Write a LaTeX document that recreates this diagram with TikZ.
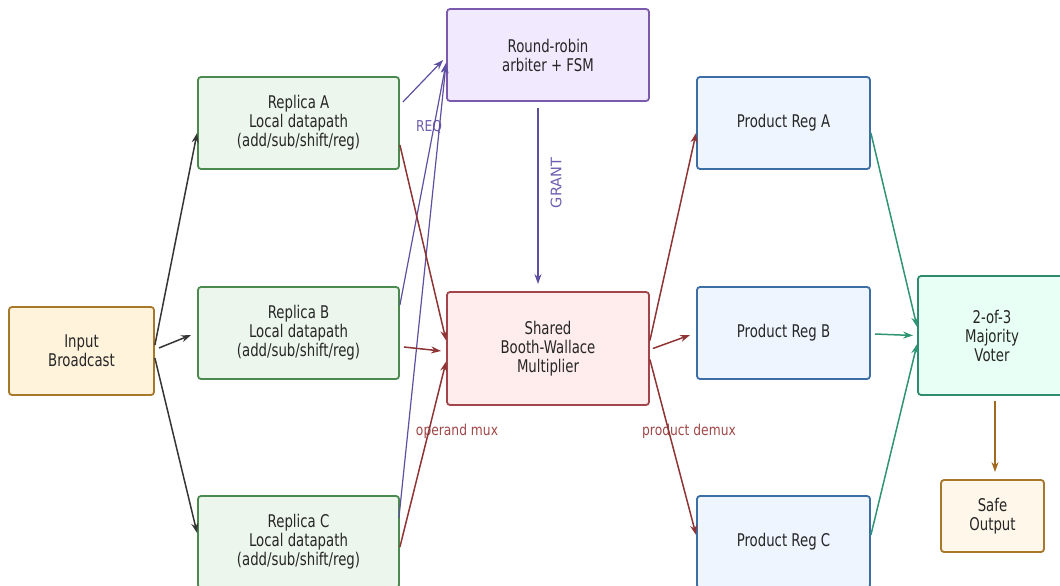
\documentclass[tikz,border=0pt]{standalone}
\usepackage{fontspec}
\setmainfont{DejaVu Sans}[FakeStretch=0.76]
\newfontfamily\lblfont{DejaVu Sans}[FakeStretch=0.82]
\newfontfamily\grantfont{DejaVu Sans}
\usetikzlibrary{calc,arrows.meta}
\definecolor{inB}{HTML}{A8782A}\definecolor{inF}{HTML}{FFF3DC}
\definecolor{repB}{HTML}{4A8A4E}\definecolor{repF}{HTML}{EDF6EC}
\definecolor{arbB}{HTML}{7B5AAE}\definecolor{arbF}{HTML}{F1EAFF}
\definecolor{mulB}{HTML}{A2454A}\definecolor{mulF}{HTML}{FFECEC}
\definecolor{prB}{HTML}{3B6EA5}\definecolor{prF}{HTML}{EEF5FF}
\definecolor{votB}{HTML}{2E8B6E}\definecolor{votF}{HTML}{E8FFF6}
\definecolor{safB}{HTML}{A8782A}\definecolor{safF}{HTML}{FFF7EA}
\definecolor{eBlk}{HTML}{353535}
\definecolor{ePur}{HTML}{5E4FA0}
\definecolor{eRed}{HTML}{8E3434}
\definecolor{eTeal}{HTML}{2E9474}
\definecolor{eBrn}{HTML}{A06A20}
\definecolor{lPur}{HTML}{6E5EAE}
\definecolor{lRed}{HTML}{A04848}
\begin{document}
\begin{tikzpicture}[x=1pt,y=-1pt,
  box/.style={draw, line width=1.8pt, rounded corners=3pt, align=center, inner sep=0pt,
    font=\fontsize{17.5}{19}\selectfont, text=black!85},
  conn/.style={line width=1.5pt, -{Stealth[length=10pt,width=7pt]}},
  lbl/.style={font=\lblfont\fontsize{15}{16}\selectfont}]
\useasboundingbox (0,0) rectangle (1060,586);
\node[box, draw=inB, fill=inF, minimum width=145pt, minimum height=88pt] (in) at (81.5,351) {Input\\Broadcast};
\node[box, draw=repB, fill=repF, minimum width=201pt, minimum height=92pt] (ra) at (298.5,123) {Replica A\\Local datapath\\(add/sub/shift/reg)};
\node[box, draw=repB, fill=repF, minimum width=201pt, minimum height=92pt] (rb) at (298.5,333) {Replica B\\Local datapath\\(add/sub/shift/reg)};
\node[box, draw=repB, fill=repF, minimum width=201pt, minimum height=92pt] (rc) at (298.5,542) {Replica C\\Local datapath\\(add/sub/shift/reg)};
\node[box, draw=arbB, fill=arbF, minimum width=202pt, minimum height=92pt] (arb) at (548,55) {Round-robin\\arbiter + FSM};
\node[box, draw=mulB, fill=mulF, minimum width=202pt, minimum height=113pt] (mul) at (548,348.5) {Shared\\Booth-Wallace\\Multiplier};
\node[box, draw=prB, fill=prF, minimum width=173pt, minimum height=92pt] (pra) at (783.5,123) {Product Reg A};
\node[box, draw=prB, fill=prF, minimum width=173pt, minimum height=92pt] (prb) at (783.5,333) {Product Reg B};
\node[box, draw=prB, fill=prF, minimum width=173pt, minimum height=92pt] (prc) at (783.5,542) {Product Reg C};
\node[box, draw=votB, fill=votF, minimum width=148pt, minimum height=119pt] (vot) at (992,335.5) {2-of-3\\Majority\\Voter};
\node[box, draw=safB, fill=safF, minimum width=103pt, minimum height=72pt] (saf) at (992.5,516) {Safe\\Output};
% labels
\node[lbl, text=lPur] (req) at (429,127) {REQ};
\node[text=lPur, rotate=90, font=\grantfont\fontsize{14.5}{16}\selectfont] (grant) at (556,183) {GRANT};
\node[lbl, text=lRed] (omux) at (457,431) {operand mux};
\node[lbl, text=lRed] (pdmx) at (689,431) {product demux};
% input broadcast
\draw[conn, eBlk] ($(in.east)+(0,-6)$) -- ($(ra.west)+(0,10)$);
\draw[conn, eBlk] ($(in.east)+(4,-3)$) -- ($(rb.west)+(-6,2)$);
\draw[conn, eBlk] ($(in.east)+(0,7)$) -- ($(rc.west)+(0,-9)$);
% requests
\draw[conn, ePur, line width=1.2pt] ($(ra.east)+(3,-21)$) -- ($(arb.west)+(-3,5)$);
\draw[conn, ePur, line width=1.2pt] ($(rb.east)+(0,-28)$) -- ($(arb.west)+(0,8)$);
\draw[conn, ePur, line width=1.2pt] ($(rc.east)+(-1,-24)$) -- ($(arb.west)+(0,8)$);
% operand mux
\draw[conn, eRed] ($(ra.east)+(0,22)$) -- ($(mul.west)+(0,-8)$);
\draw[conn, eRed] ($(rb.east)+(4,14)$) -- ($(mul.west)+(-5,2.5)$);
\draw[conn, eRed] ($(rc.east)+(0,5)$) -- ($(mul.west)+(0,13)$);
% grant
\draw[conn, ePur] ($(arb.south)+(-10,6)$) -- ($(mul.north)+(-10,-7)$);
% product demux
\draw[conn, eRed] ($(mul.east)+(0,-8)$) -- ($(pra.west)+(0,10)$);
\draw[conn, eRed] ($(mul.east)+(3,0)$) -- ($(prb.west)+(-6,2)$);
\draw[conn, eRed] ($(mul.east)+(0,11)$) -- ($(prc.west)+(0,-7)$);
% voter
\draw[conn, eTeal] ($(pra.east)+(0,10)$) -- ($(vot.west)+(0,-8.5)$);
\draw[conn, eTeal] ($(prb.east)+(4,1)$) -- ($(vot.west)+(-4,0)$);
\draw[conn, eTeal] ($(prc.east)+(0,-7)$) -- ($(vot.west)+(0,8.5)$);
\draw[conn, eBrn] ($(vot.south)+(3,5)$) -- ($(saf.north)+(2.5,-7)$);
\end{tikzpicture}
\end{document}
